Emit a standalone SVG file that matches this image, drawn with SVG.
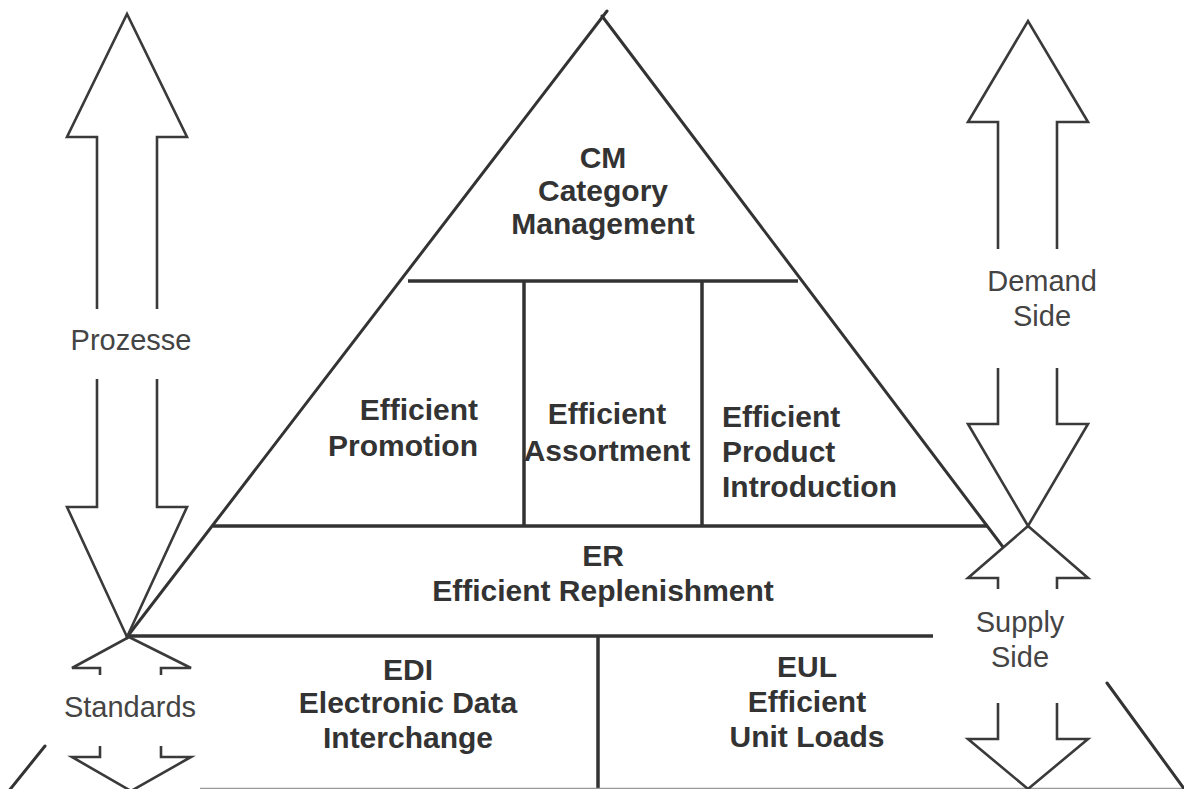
<svg xmlns="http://www.w3.org/2000/svg" width="1184" height="789" viewBox="0 0 1184 789">
  <style>
    .edge { fill: none; stroke: #333; stroke-width: 3; stroke-linecap: round; }
    .rule { fill: none; stroke: #333; stroke-width: 3.5; }
    .base { fill: none; stroke: #999; stroke-width: 1.5; }
    .arrow { fill: none; stroke: #3a3a3a; stroke-width: 2.6; stroke-linejoin: miter; }
    .b { font-family: "Liberation Sans", Arial, sans-serif; font-weight: bold; font-size: 30px; fill: #333; }
    .r { font-family: "Liberation Sans", Arial, sans-serif; font-size: 29px; fill: #444; }
    .mid { text-anchor: middle; }
  </style>
  <rect width="1184" height="789" fill="#fff"/>

  <!-- pyramid outline and dividing rules -->
  <g id="pyramid">
    <line class="edge" x1="127" y1="637" x2="607" y2="11"/>
    <line class="edge" x1="602" y1="16" x2="1003" y2="547"/>
    <line class="rule" x1="408" y1="281" x2="798" y2="281"/>
    <line class="rule" x1="524" y1="281" x2="524" y2="526"/>
    <line class="rule" x1="702" y1="281" x2="702" y2="526"/>
    <line class="rule" x1="213" y1="526" x2="988" y2="526"/>
    <line class="rule" x1="130" y1="636" x2="933" y2="636"/>
    <line class="rule" x1="598" y1="637" x2="598" y2="789"/>
    <line class="base" x1="200" y1="788.5" x2="1184" y2="788.5"/>
    <line class="edge" x1="45" y1="746" x2="8" y2="792"/>
    <line class="edge" x1="1107" y1="683" x2="1185" y2="790"/>
  </g>

  <g id="cm">
    <text class="b mid" x="603" y="168">CM</text>
    <text class="b mid" x="603" y="201">Category</text>
    <text class="b mid" x="603" y="234">Management</text>
  </g>
  <g id="promotion">
    <text class="b" x="478" y="420" text-anchor="end">Efficient</text>
    <text class="b" x="478" y="456" text-anchor="end">Promotion</text>
  </g>
  <g id="assortment">
    <text class="b mid" x="607" y="424">Efficient</text>
    <text class="b mid" x="607" y="461">Assortment</text>
  </g>
  <g id="introduction">
    <text class="b" x="722" y="427">Efficient</text>
    <text class="b" x="722" y="462">Product</text>
    <text class="b" x="722" y="497">Introduction</text>
  </g>
  <g id="er">
    <text class="b mid" x="603" y="566">ER</text>
    <text class="b mid" x="603" y="601">Efficient Replenishment</text>
  </g>
  <g id="edi">
    <text class="b mid" x="408" y="680">EDI</text>
    <text class="b mid" x="408" y="713">Electronic Data</text>
    <text class="b mid" x="408" y="748">Interchange</text>
  </g>
  <g id="eul">
    <text class="b mid" x="807" y="677">EUL</text>
    <text class="b mid" x="807" y="712">Efficient</text>
    <text class="b mid" x="807" y="747">Unit Loads</text>
  </g>

  <!-- block arrows at the sides -->
  <g id="connectors">
    <!-- Prozesse: up head + shaft, then shaft + down head -->
    <polyline class="arrow" points="97,309 97,137 67,137 127,14 187,137 157,137 157,309"/>
    <polyline class="arrow" points="97,379 97,507 67,507 127,637 187,507 157,507 157,379"/>
    <!-- Standards -->
    <polyline class="arrow" points="100,675 100,668 72,668 129,637 191,668 161,668 161,675"/>
    <polyline class="arrow" points="100,746 100,757 72,757 131,791 191,757 161,757 161,746"/>
    <!-- Demand Side -->
    <polyline class="arrow" points="998,249 998,122 968,122 1028,21 1088,122 1057,122 1057,249"/>
    <polyline class="arrow" points="998,368 998,424 968,424 1028,526 1088,424 1057,424 1057,368"/>
    <!-- Supply Side -->
    <polyline class="arrow" points="998,589 998,578 968,578 1028,526 1088,578 1057,578 1057,589"/>
    <polyline class="arrow" points="998,703 998,739 968,739 1028,789 1088,739 1057,739 1057,703"/>
  </g>

  <g id="labels">
    <text class="r mid" x="131" y="350">Prozesse</text>
    <text class="r mid" x="130" y="717">Standards</text>
    <text class="r mid" x="1042" y="291">Demand</text>
    <text class="r mid" x="1042" y="326">Side</text>
    <text class="r mid" x="1020" y="632">Supply</text>
    <text class="r mid" x="1020" y="667">Side</text>
  </g>
</svg>
